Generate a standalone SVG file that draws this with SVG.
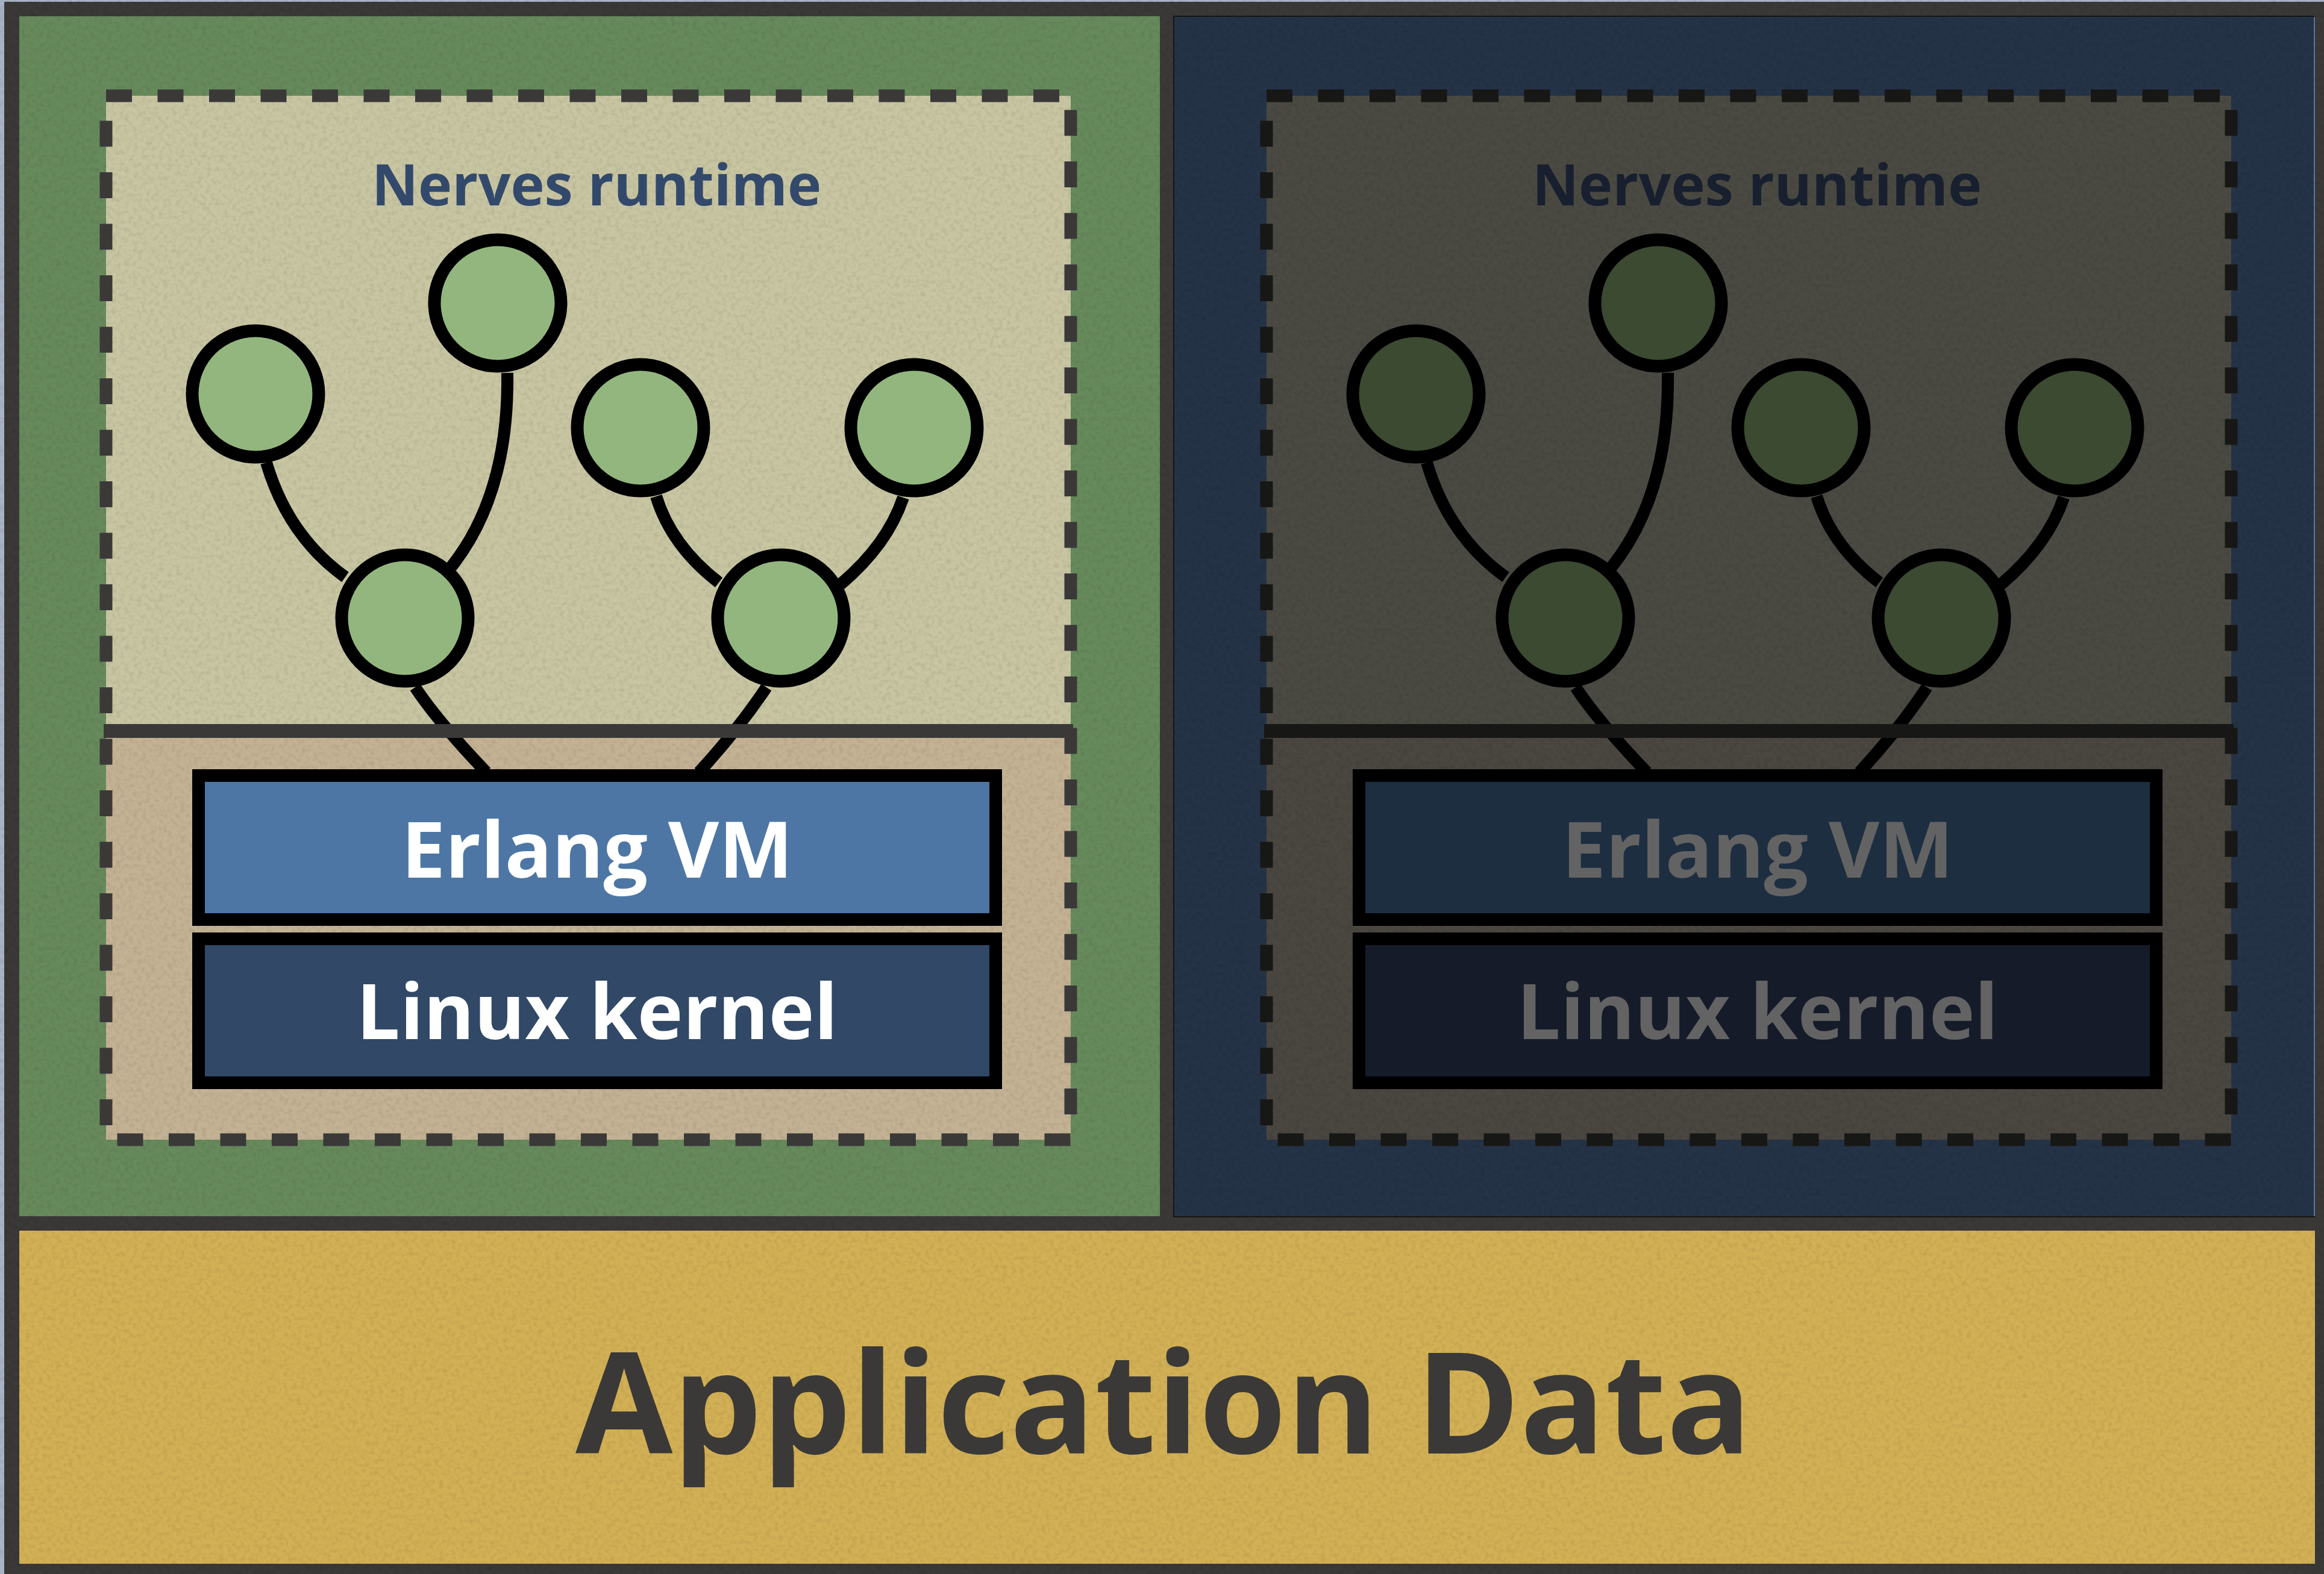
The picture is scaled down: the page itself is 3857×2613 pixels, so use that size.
<svg xmlns="http://www.w3.org/2000/svg" width="3857" height="2613" viewBox="0 0 3857 2613">
  <style>
    .lbl { font-family: "Open Sans", "Noto Sans", "DejaVu Sans", sans-serif; font-weight: 700; text-anchor: middle; }
    .edge { fill: none; stroke: #000; stroke-width: 20; stroke-linecap: butt; }
    .node { stroke: #000; stroke-width: 21; }
    .L .node { fill: #93b67e; }
    .R .node { fill: #3b4a30; }
    .box { stroke: #000; stroke-width: 21; }
    .dash { fill: none; stroke-width: 21; stroke-dasharray: 43 42.5; }
  </style>
  <defs>
    <filter id="paper" filterUnits="userSpaceOnUse" x="0" y="0" width="3857" height="2613">
      <feTurbulence type="fractalNoise" baseFrequency="0.14" numOctaves="3" seed="7" result="n"/>
      <feColorMatrix in="n" type="matrix" values="0 0 0 0 0  0 0 0 0 0  0 0 0 0 0  0.9 0 0 0 -0.38"/>
    </filter>
  </defs>

  <!-- background paper and frame -->
  <rect x="0" y="0" width="3857" height="2613" fill="#a8b5c6"/>
  <rect x="7" y="3" width="3850" height="2610" fill="#3a3938"/>

  <!-- panels -->
  <g id="panel-left">
    <rect x="32" y="27" width="1893" height="1992" fill="#678a5c"/>
    <rect x="176" y="159" width="1601" height="1054" fill="#c8c5a2"/>
    <rect x="176" y="1213" width="1601" height="679" fill="#c4b294"/>
  </g>
  <g id="panel-right">
    <rect x="1947" y="26" width="1895" height="1995" fill="#171716"/>
    <rect x="1949" y="28" width="1891" height="1991" fill="#253347"/>
    <rect x="3840" y="28" width="2" height="1991" fill="#5a78a0"/>
    <rect x="2102" y="159" width="1601" height="1054" fill="#4a4a43"/>
    <rect x="2102" y="1213" width="1601" height="679" fill="#4a4640"/>
  </g>
  <g id="application-data-bg">
    <rect x="32" y="2043" width="3810" height="553" fill="#d2b055"/>
  </g>

  <!-- paper texture -->
  <rect x="0" y="0" width="3857" height="2613" fill="#000" filter="url(#paper)" opacity="0.2"/>

  <!-- connectors -->
  <g id="connectors">
    <g id="connectors-left">
      <path class="edge" d="M 442 768 Q 478 890 573 958"/>
      <path class="edge" d="M 842 619 Q 845 820 749 941"/>
      <path class="edge" d="M 1089 824 Q 1114 906 1193 967"/>
      <path class="edge" d="M 1499 826 Q 1473 904 1395 970"/>
      <path class="edge" d="M 689 1141 Q 726 1197 807 1282"/>
      <path class="edge" d="M 1272 1141 Q 1226 1210 1160 1282"/>
    </g>
    <g id="connectors-right" transform="translate(1926 0)">
      <path class="edge" d="M 442 768 Q 478 890 573 958"/>
      <path class="edge" d="M 842 619 Q 845 820 749 941"/>
      <path class="edge" d="M 1089 824 Q 1114 906 1193 967"/>
      <path class="edge" d="M 1499 826 Q 1473 904 1395 970"/>
      <path class="edge" d="M 689 1141 Q 726 1197 807 1282"/>
      <path class="edge" d="M 1272 1141 Q 1226 1210 1160 1282"/>
    </g>
  </g>

  <!-- left runtime -->
  <g id="runtime-left" class="L">
    <text class="lbl" x="990" y="341" font-size="95" fill="#33496b">Nerves runtime</text>
    <g id="proc-l1"><circle class="node" cx="424" cy="654" r="105"/></g>
    <g id="proc-l2"><circle class="node" cx="826" cy="503" r="105"/></g>
    <g id="proc-l3"><circle class="node" cx="1063" cy="710" r="105"/></g>
    <g id="proc-l4"><circle class="node" cx="1517" cy="710" r="105"/></g>
    <g id="proc-l5"><circle class="node" cx="672" cy="1026" r="105"/></g>
    <g id="proc-l6"><circle class="node" cx="1296" cy="1026" r="105"/></g>
    <line x1="172" y1="1213.5" x2="1781" y2="1213.5" stroke="#3a3938" stroke-width="23"/>
    <g id="erlang-left">
      <rect class="box" x="329.5" y="1287.5" width="1323" height="239" fill="#4d76a4"/>
      <text class="lbl" x="991" y="1457" font-size="130" fill="#ffffff">Erlang VM</text>
    </g>
    <g id="linux-left">
      <rect class="box" x="329.5" y="1558.5" width="1323" height="239" fill="#314866"/>
      <text class="lbl" x="991" y="1725" font-size="128" fill="#ffffff">Linux kernel</text>
    </g>
    <rect class="dash" x="176" y="159" width="1601" height="1733" stroke="#3a3938"/>
  </g>

  <!-- right runtime -->
  <g id="runtime-right" class="R">
    <text class="lbl" x="2916" y="341" font-size="95" fill="#18202f">Nerves runtime</text>
    <g id="proc-r1"><circle class="node" cx="2350" cy="654" r="105"/></g>
    <g id="proc-r2"><circle class="node" cx="2752" cy="503" r="105"/></g>
    <g id="proc-r3"><circle class="node" cx="2989" cy="710" r="105"/></g>
    <g id="proc-r4"><circle class="node" cx="3443" cy="710" r="105"/></g>
    <g id="proc-r5"><circle class="node" cx="2598" cy="1026" r="105"/></g>
    <g id="proc-r6"><circle class="node" cx="3222" cy="1026" r="105"/></g>
    <line x1="2098" y1="1213.5" x2="3707" y2="1213.5" stroke="#171715" stroke-width="23"/>
    <g id="erlang-right">
      <rect class="box" x="2255.5" y="1287.5" width="1323" height="239" fill="#1e2e41"/>
      <text class="lbl" x="2917" y="1457" font-size="130" fill="#636363">Erlang VM</text>
    </g>
    <g id="linux-right">
      <rect class="box" x="2255.5" y="1558.5" width="1323" height="239" fill="#151b29"/>
      <text class="lbl" x="2917" y="1725" font-size="128" fill="#636363">Linux kernel</text>
    </g>
    <rect class="dash" x="2102" y="159" width="1601" height="1733" stroke="#171715"/>
  </g>

  <g id="application-data">
    <text class="lbl" x="1931" y="2413" font-size="234" fill="#3a3938">Application Data</text>
  </g>
</svg>
